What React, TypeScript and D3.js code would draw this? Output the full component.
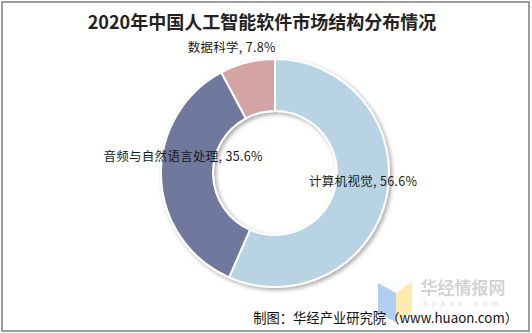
import React from "react";
import * as d3 from "d3";

const categories = ["计算机视觉", "音频与自然语言处理", "数据科学"];
const values = [56.6, 35.6, 7.8];
const colors = ["#b8d4e4", "#6f799d", "#d4a4a4"];
const title = "2020年中国人工智能软件市场结构分布情况";
const source = "制图：华经产业研究院（www.huaon.com）";

const W = 532;
const H = 333;
const cx = 275;
const cy = 173;
const outerR = 114;
const innerR = 62;
// label placement: radius from center and pixel nudges per slice
const labelR = [88, 90, 133];
const labelNudge: [number, number][] = [
  [2, -11],
  [-2, -21],
  [-11, 3],
];

export default function App() {
  const pie = d3
    .pie<number>()
    .sort(null)
    .value((d) => d)
    .startAngle(0)
    .endAngle(2 * Math.PI);
  const arcs = pie(values);
  const arc = d3.arc<d3.PieArcDatum<number>>().innerRadius(innerR).outerRadius(outerR);

  return (
    <svg
      width={W}
      height={H}
      style={{ position: "absolute", left: 0, top: 0, background: "#fff" }}
      fontFamily="'Liberation Sans', Arial, 'Noto Sans CJK SC', sans-serif"
    >
      <defs>
        <filter id="sh" x="-20%" y="-20%" width="140%" height="140%">
          <feDropShadow dx="2" dy="2" stdDeviation="2" floodColor="#000" floodOpacity="0.35" />
        </filter>
      </defs>
      <rect x={0} y={0} width={W} height={H} fill="#fff" />
      <rect x={2} y={2} width={527} height={329} fill="none" stroke="#7f7f7f" strokeWidth={1.5} />
      <text
        x={262}
        y={29}
        textAnchor="middle"
        fontSize={18}
        fontWeight="bold"
        fill="#222"
        fontFamily="'Noto Sans CJK SC', sans-serif"
      >
        {title}
      </text>

      {/* watermark */}
      <g opacity={0.9}>
        <polygon points="378,283 396,293 396,322 378,313" fill="#a9c9f2" />
        <polygon points="396,293 412,282 412,312 396,322" fill="#fbe9a6" />
        <text
          x={463}
          y={294}
          textAnchor="middle"
          fontSize={17}
          fontWeight="bold"
          fill="#cfcfcf"
          fontFamily="'Noto Sans CJK SC', sans-serif"
        >
          华经情报网
        </text>
        <text x={463} y={306} textAnchor="middle" fontSize={7} fill="#d0d0d0" letterSpacing={5}>
          huaon.com
        </text>
      </g>

      <g transform={`translate(${cx},${cy})`}>
        <g filter="url(#sh)">
          {arcs.map((a, i) => (
            <path key={i} d={arc(a) || ""} fill={colors[i]} stroke="#fff" strokeWidth={2} />
          ))}
        </g>
        {arcs.map((a, i) => {
          const mid = (a.startAngle + a.endAngle) / 2;
          const x = Math.sin(mid) * labelR[i] + labelNudge[i][0];
          const y = -Math.cos(mid) * labelR[i] + labelNudge[i][1];
          return (
            <text
              key={i}
              x={x}
              y={y}
              textAnchor="middle"
              dominantBaseline="central"
              fontSize={12.5}
              letterSpacing={0.3}
              fill="#1a1a1a"
              fontFamily="'Noto Sans CJK SC', sans-serif"
            >
              {`${categories[i]}, ${values[i].toFixed(1)}%`}
            </text>
          );
        })}
      </g>

      <text
        x={518}
        y={323}
        textAnchor="end"
        fontSize={13.3}
        fill="#111"
        fontFamily="'Noto Sans CJK SC', sans-serif"
      >
        {source}
      </text>
    </svg>
  );
}
